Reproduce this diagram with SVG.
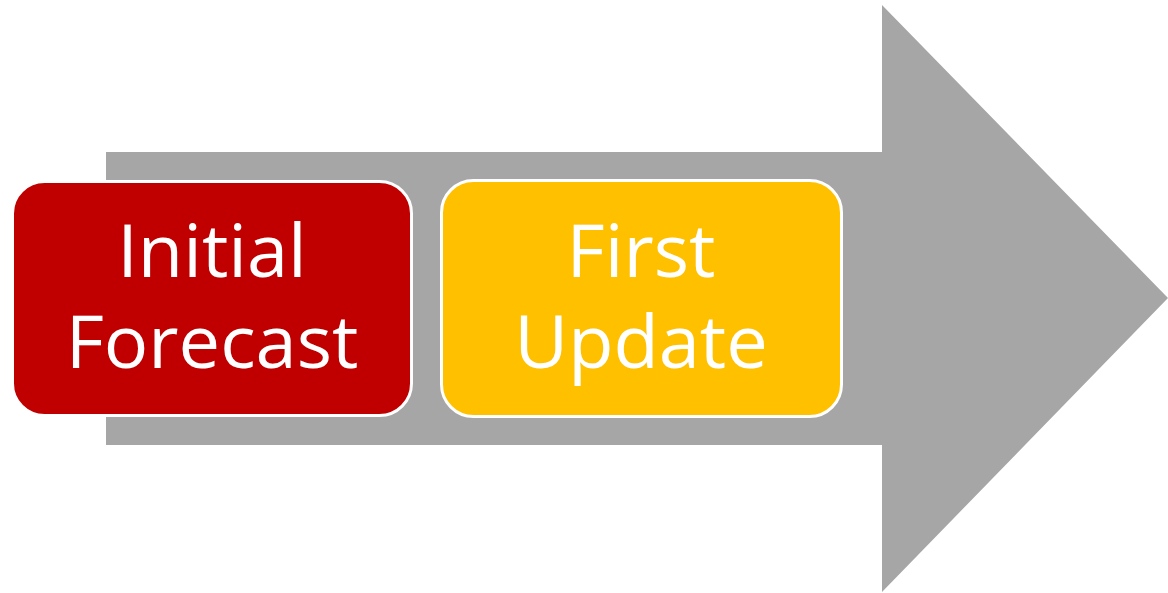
<svg xmlns="http://www.w3.org/2000/svg" width="1168" height="593" viewBox="0 0 1168 593">
<style>
.box{stroke:#fff;stroke-width:3}
.lbl{font-family:"Open Sans","Noto Sans",sans-serif;font-size:74px;fill:#fff;text-anchor:middle}
</style>
<rect width="1168" height="593" fill="#fff"/>
<g id="arrow">
<polygon points="106,152 882,152 882,5 1168,298 882,592 882,445 106,445" fill="#a6a6a6"/>
</g>
<g id="initial">
<rect class="box" x="12.5" y="181.5" width="399" height="234" rx="32" fill="#c00000"/>
<text class="lbl" x="212" y="277">Initial</text>
<text class="lbl" x="212" y="368">Forecast</text>
</g>
<g id="first">
<rect class="box" x="441.5" y="180.5" width="400" height="236" rx="32" fill="#ffc000"/>
<text class="lbl" x="641" y="277">First</text>
<text class="lbl" x="641" y="368">Update</text>
</g>
<g id="connectors"/>
</svg>
